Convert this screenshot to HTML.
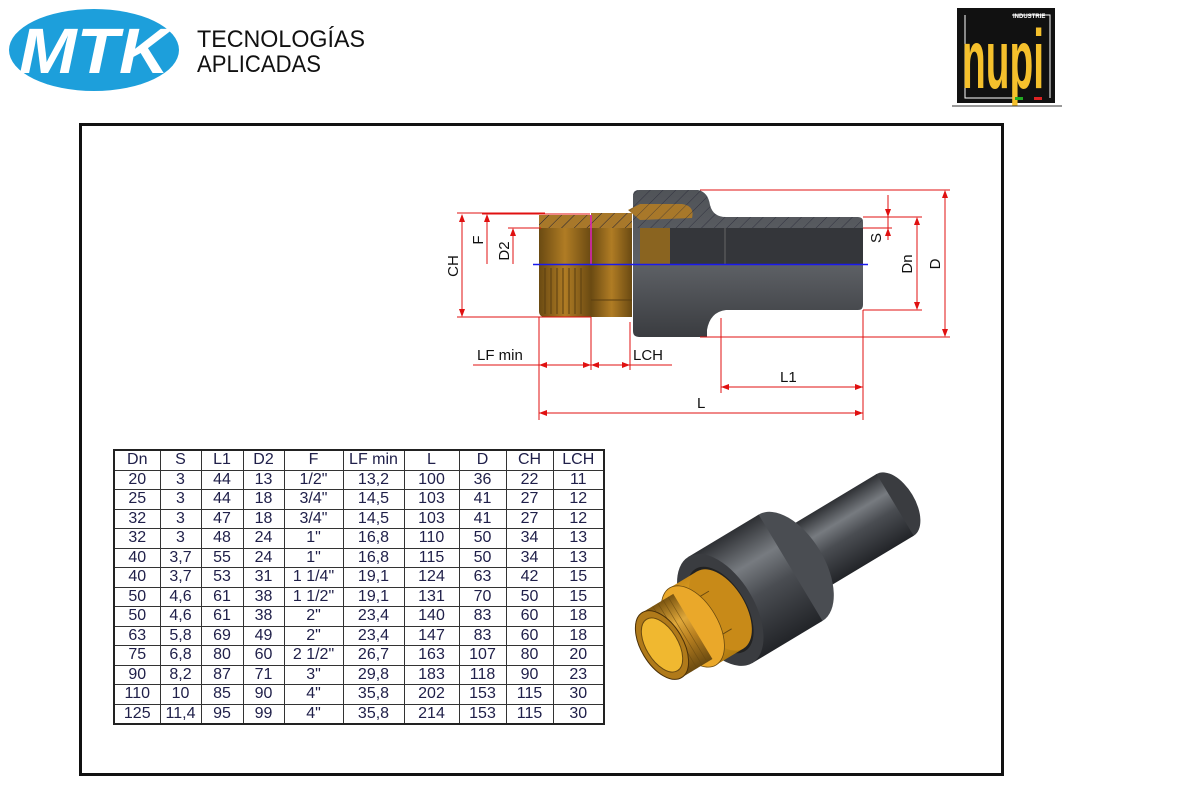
<!DOCTYPE html>
<html><head><meta charset="utf-8"><style>
*{margin:0;padding:0}
body{width:1184px;height:808px;background:#fff;position:relative;overflow:hidden;font-family:"Liberation Sans",sans-serif}
.abs{position:absolute}
table{position:absolute;left:113px;top:449px;border-collapse:collapse;table-layout:fixed;border:2px solid #222}
td{border:1px solid #333;height:18.5px;padding:0;text-align:center;font-size:16px;line-height:18px;color:#20204a;overflow:hidden;white-space:nowrap}
</style></head><body>
<svg class="abs" style="left:0;top:0" width="1184" height="808" viewBox="0 0 1184 808">
<defs>
<linearGradient id="gp" x1="0" y1="0" x2="0" y2="1"><stop offset="0" stop-color="#2e3034"/><stop offset=".3" stop-color="#777b80"/><stop offset=".55" stop-color="#4a4d52"/><stop offset="1" stop-color="#222428"/></linearGradient>
<linearGradient id="gb" x1="0" y1="0" x2="0" y2="1"><stop offset="0" stop-color="#7a5410"/><stop offset=".35" stop-color="#e0a83a"/><stop offset=".6" stop-color="#b98020"/><stop offset="1" stop-color="#6a4a10"/></linearGradient>
<linearGradient id="gh" x1="0" y1="0" x2="0" y2="1"><stop offset="0" stop-color="#c88a18"/><stop offset=".4" stop-color="#f5b830"/><stop offset="1" stop-color="#b07a10"/></linearGradient>
<linearGradient id="g2" x1="0" y1="0" x2="1" y2="0"><stop offset="0" stop-color="#6a4a12"/><stop offset=".5" stop-color="#b07c24"/><stop offset="1" stop-color="#6a4a12"/></linearGradient>
<linearGradient id="gk" x1="0" y1="0" x2="0" y2="1"><stop offset="0" stop-color="#505358"/><stop offset=".5" stop-color="#5e6166"/><stop offset="1" stop-color="#3a3c40"/></linearGradient>
<pattern id="hatch" width="9" height="9" patternUnits="userSpaceOnUse" patternTransform="rotate(45)"><line x1="0" y1="0" x2="0" y2="9" stroke="#223" stroke-width="1"/></pattern>
<clipPath id="bodyclip"><path d="M633,196 Q633,190 639,190 L698,190 Q708,192 710,205 Q713,217 726,217 L858,217 Q863,217 863,222 L863,228 L633,228 Z"/></clipPath>
</defs>
<!-- MTK logo -->
<ellipse cx="94" cy="50" rx="85" ry="41" fill="#1d9fdb"/>
<text x="94" y="73" text-anchor="middle" font-family="Liberation Sans" font-weight="bold" font-style="italic" font-size="64" fill="#fff" textLength="150" lengthAdjust="spacingAndGlyphs">MTK</text>
<text x="197" y="47" font-family="Liberation Sans" font-size="24" fill="#111" textLength="168" lengthAdjust="spacingAndGlyphs">TECNOLOGÍAS</text>
<text x="197" y="72" font-family="Liberation Sans" font-size="24" fill="#111" textLength="124" lengthAdjust="spacingAndGlyphs">APLICADAS</text>
<!-- nupi -->
<rect x="957" y="8" width="98" height="95" fill="#111"/>
<polyline points="1012,15 1050,15 1050,98" fill="none" stroke="#fff" stroke-width="1"/>
<polyline points="965,15 965,98 1020,98" fill="none" stroke="#fff" stroke-width="1"/>
<text x="1013" y="18" font-size="6" fill="#fff" font-weight="bold">INDUSTRIE</text>
<text transform="translate(962,88) scale(1,1.6)" font-family="Liberation Sans" font-weight="bold" font-size="52" fill="#f5c02c" textLength="82" lengthAdjust="spacingAndGlyphs">nupi</text>
<rect x="1015" y="97" width="8" height="3" fill="#2a2"/><rect x="1034" y="97" width="8" height="3" fill="#d22"/>
<line x1="952" y1="106" x2="1062" y2="106" stroke="#333" stroke-width="1"/>
<!-- frame -->
<rect x="80.5" y="124.5" width="922" height="650" fill="none" stroke="#111" stroke-width="3"/>
<!-- 2D drawing -->
<path d="M633,196 Q633,190 639,190 L698,190 Q708,192 710,205 Q713,217 726,217 L858,217 Q863,217 863,222 L863,305 Q863,310 858,310 L726,310 Q710,312 707,330 L707,337 L639,337 Q633,337 633,331 Z" fill="url(#gk)"/>
<rect x="633" y="190" width="230" height="38" fill="url(#hatch)" opacity=".7" clip-path="url(#bodyclip)"/>
<rect x="670" y="228" width="193" height="36" fill="#34363a"/>
<line x1="725" y1="228" x2="725" y2="264" stroke="#666"/>
<path d="M545,215 L591,215 L591,317 L545,317 Q539,317 539,311 L539,221 Q539,215 545,215 Z" fill="url(#g2)"/>
<rect x="539" y="215" width="52" height="13" fill="#a8782a"/>
<rect x="539" y="215" width="52" height="13" fill="url(#hatch)"/>
<g stroke="#5a3e10" stroke-width="1">
<line x1="545" y1="268" x2="545" y2="314"/><line x1="551" y1="268" x2="551" y2="314"/><line x1="557" y1="268" x2="557" y2="314"/><line x1="563" y1="268" x2="563" y2="314"/><line x1="569" y1="268" x2="569" y2="314"/><line x1="575" y1="268" x2="575" y2="314"/><line x1="581" y1="268" x2="581" y2="314"/>
</g>
<rect x="591" y="213" width="41" height="104" fill="url(#g2)"/>
<rect x="591" y="213" width="41" height="15" fill="#a8782a"/>
<rect x="591" y="213" width="41" height="15" fill="url(#hatch)"/>
<line x1="591" y1="300" x2="632" y2="300" stroke="#5a3e10"/>
<rect x="640" y="228" width="30" height="36" fill="#8a6420"/>
<path d="M628,210 L640,204 L682,204 Q695,206 692,218 L640,220 Z" fill="#a8782a"/>
<path d="M628,210 L640,204 L682,204 Q695,206 692,218 L640,220 Z" fill="url(#hatch)" opacity=".6"/>
<line x1="591" y1="215" x2="591" y2="264" stroke="#e020c0" stroke-width="1.5"/>
<line x1="533" y1="264.5" x2="868" y2="264.5" stroke="#1a1aee" stroke-width="1.5"/>
<g stroke="#e01010" stroke-width="1" fill="none">
<line x1="457" y1="213" x2="545" y2="213"/><line x1="457" y1="317" x2="591" y2="317"/>
<line x1="462" y1="215" x2="462" y2="316"/>
<line x1="482" y1="214" x2="590" y2="214"/><line x1="487" y1="216" x2="487" y2="264"/>
<line x1="508" y1="228" x2="541" y2="228"/><line x1="513" y1="230" x2="513" y2="264"/>
<line x1="700" y1="190" x2="950" y2="190"/><line x1="700" y1="337" x2="950" y2="337"/>
<line x1="945" y1="192" x2="945" y2="335"/>
<line x1="863" y1="217" x2="922" y2="217"/><line x1="863" y1="310" x2="922" y2="310"/>
<line x1="917" y1="219" x2="917" y2="308"/>
<line x1="888" y1="195" x2="888" y2="240"/><line x1="863" y1="228" x2="892" y2="228"/>
<line x1="539" y1="317" x2="539" y2="420"/><line x1="591" y1="317" x2="591" y2="370"/>
<line x1="630" y1="322" x2="630" y2="370"/><line x1="721" y1="318" x2="721" y2="393"/>
<line x1="863" y1="310" x2="863" y2="420"/>
<line x1="473" y1="365" x2="672" y2="365"/>
<line x1="721" y1="387" x2="863" y2="387"/>
<line x1="539" y1="413" x2="863" y2="413"/>
</g>
<g fill="#e01010">
<path d="M462,214 l-3,8 h6z"/><path d="M462,317 l-3,-8 h6z"/>
<path d="M487,214 l-3,8 h6z"/><path d="M513,228 l-3,8 h6z"/>
<path d="M945,190 l-3,8 h6z"/><path d="M945,337 l-3,-8 h6z"/>
<path d="M917,217 l-3,8 h6z"/><path d="M917,310 l-3,-8 h6z"/>
<path d="M888,217 l-3,-8 h6z"/><path d="M888,228 l-3,8 h6z"/>
<path d="M539,365 l8,-3 v6z"/><path d="M591,365 l-8,-3 v6z"/><path d="M591,365 l8,-3 v6z"/><path d="M630,365 l-8,-3 v6z"/>
<path d="M721,387 l8,-3 v6z"/><path d="M863,387 l-8,-3 v6z"/>
<path d="M539,413 l8,-3 v6z"/><path d="M863,413 l-8,-3 v6z"/>
</g>
<g font-family="Liberation Sans" font-size="15" fill="#111">
<text transform="translate(458,266) rotate(-90)" text-anchor="middle">CH</text>
<text transform="translate(483,240) rotate(-90)" text-anchor="middle">F</text>
<text transform="translate(509,251) rotate(-90)" text-anchor="middle">D2</text>
<text transform="translate(881,238) rotate(-90)" text-anchor="middle">S</text>
<text transform="translate(912,264) rotate(-90)" text-anchor="middle">Dn</text>
<text transform="translate(940,264) rotate(-90)" text-anchor="middle">D</text>
<text x="477" y="360">LF min</text>
<text x="633" y="360">LCH</text>
<text x="780" y="382">L1</text>
<text x="697" y="408">L</text>
</g>
<!-- 3D render -->
<g transform="translate(662,645) rotate(-31)">
<ellipse cx="272" cy="0" rx="20" ry="36" fill="#3a3c40"/>
<rect x="150" y="-36" width="122" height="72" fill="url(#gp)"/>
<ellipse cx="150" cy="0" rx="34" ry="62" fill="#4a4d52"/>
<rect x="68" y="-62" width="82" height="124" fill="url(#gp)"/>
<ellipse cx="68" cy="0" rx="34" ry="62" fill="#3a3c40"/>
<ellipse cx="68" cy="0" rx="26" ry="48" fill="#222"/>
<rect x="36" y="-45" width="32" height="90" fill="url(#gh)"/>
<ellipse cx="68" cy="0" rx="25" ry="45" fill="#c88a18"/>
<line x1="36" y1="-22" x2="68" y2="-22" stroke="#6a4a10"/><line x1="36" y1="22" x2="68" y2="22" stroke="#6a4a10"/>
<ellipse cx="36" cy="0" rx="25" ry="45" fill="#eaa82a" stroke="#6a4a10" stroke-width=".8"/>
<rect x="0" y="-38" width="36" height="76" fill="url(#gb)"/>
<g stroke="#6a4a10" stroke-width=".7" opacity=".7"><line x1="6" y1="-38" x2="6" y2="38"/><line x1="12" y1="-38" x2="12" y2="38"/><line x1="18" y1="-38" x2="18" y2="38"/><line x1="24" y1="-38" x2="24" y2="38"/><line x1="30" y1="-38" x2="30" y2="38"/></g>
<ellipse cx="0" cy="0" rx="21" ry="38" fill="#b07a1a" stroke="#4a3008" stroke-width="1"/>
<ellipse cx="0" cy="0" rx="16" ry="30" fill="#f0b830" stroke="#6a4a10" stroke-width="1"/>
</g>
</svg>
<table>
<colgroup><col style="width:46px"><col style="width:41px"><col style="width:42px"><col style="width:41px"><col style="width:59px"><col style="width:61px"><col style="width:55px"><col style="width:47px"><col style="width:47px"><col style="width:51px"></colgroup>
<tr><td>Dn</td><td>S</td><td>L1</td><td>D2</td><td>F</td><td>LF min</td><td>L</td><td>D</td><td>CH</td><td>LCH</td></tr>
<tr><td>20</td><td>3</td><td>44</td><td>13</td><td>1/2"</td><td>13,2</td><td>100</td><td>36</td><td>22</td><td>11</td></tr>
<tr><td>25</td><td>3</td><td>44</td><td>18</td><td>3/4"</td><td>14,5</td><td>103</td><td>41</td><td>27</td><td>12</td></tr>
<tr><td>32</td><td>3</td><td>47</td><td>18</td><td>3/4"</td><td>14,5</td><td>103</td><td>41</td><td>27</td><td>12</td></tr>
<tr><td>32</td><td>3</td><td>48</td><td>24</td><td>1"</td><td>16,8</td><td>110</td><td>50</td><td>34</td><td>13</td></tr>
<tr><td>40</td><td>3,7</td><td>55</td><td>24</td><td>1"</td><td>16,8</td><td>115</td><td>50</td><td>34</td><td>13</td></tr>
<tr><td>40</td><td>3,7</td><td>53</td><td>31</td><td>1 1/4"</td><td>19,1</td><td>124</td><td>63</td><td>42</td><td>15</td></tr>
<tr><td>50</td><td>4,6</td><td>61</td><td>38</td><td>1 1/2"</td><td>19,1</td><td>131</td><td>70</td><td>50</td><td>15</td></tr>
<tr><td>50</td><td>4,6</td><td>61</td><td>38</td><td>2"</td><td>23,4</td><td>140</td><td>83</td><td>60</td><td>18</td></tr>
<tr><td>63</td><td>5,8</td><td>69</td><td>49</td><td>2"</td><td>23,4</td><td>147</td><td>83</td><td>60</td><td>18</td></tr>
<tr><td>75</td><td>6,8</td><td>80</td><td>60</td><td>2 1/2"</td><td>26,7</td><td>163</td><td>107</td><td>80</td><td>20</td></tr>
<tr><td>90</td><td>8,2</td><td>87</td><td>71</td><td>3"</td><td>29,8</td><td>183</td><td>118</td><td>90</td><td>23</td></tr>
<tr><td>110</td><td>10</td><td>85</td><td>90</td><td>4"</td><td>35,8</td><td>202</td><td>153</td><td>115</td><td>30</td></tr>
<tr><td>125</td><td>11,4</td><td>95</td><td>99</td><td>4"</td><td>35,8</td><td>214</td><td>153</td><td>115</td><td>30</td></tr>
</table>
</body></html>
